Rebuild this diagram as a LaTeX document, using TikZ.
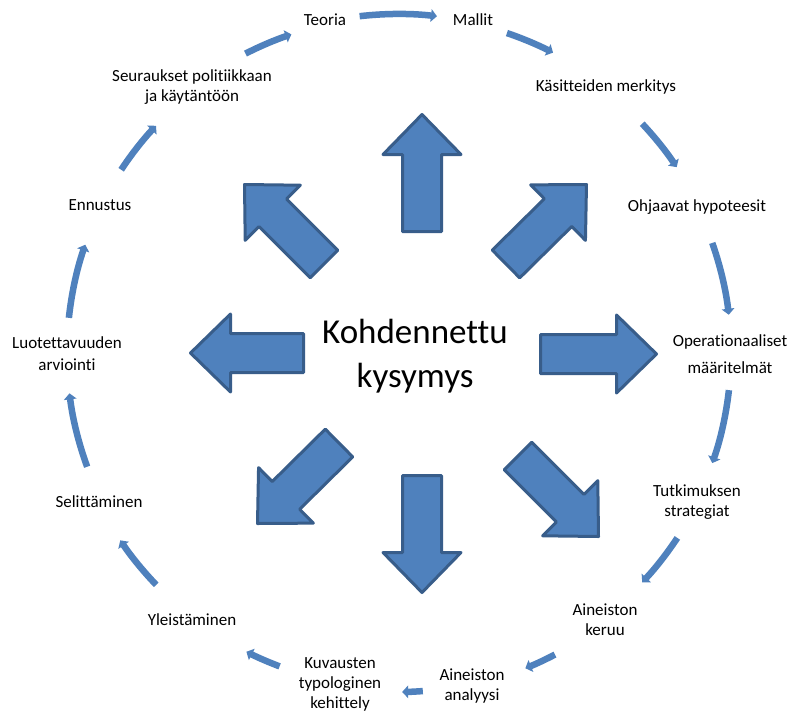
\documentclass[tikz,border=0pt]{standalone}
\usepackage{fontspec}
\setmainfont[Ligatures={NoCommon,NoRequired,NoContextual},RawFeature={-liga;-clig;-calt;-dlig}]{Carlito}
\usetikzlibrary{calc,arrows.meta}

\definecolor{blockfill}{HTML}{4F81BD}
\definecolor{blockline}{HTML}{385D8A}
\definecolor{cyclecol}{HTML}{4F81BD}

% Block arrow from tail coordinate #1 to tip coordinate #2
\newcommand\bigarr[2]{%
  \coordinate (#1h) at ($(#2)!40pt!(#1)$);
  \path[blockarrow]
    ($(#1)!19.5pt!90:(#2)$) -- ($(#1h)!19.5pt!90:(#2)$) --
    ($(#1h)!39pt!90:(#2)$) -- (#2) -- ($(#1h)!39pt!-90:(#2)$) --
    ($(#1h)!19.5pt!-90:(#2)$) -- ($(#1)!19.5pt!-90:(#2)$) -- cycle;
}

% Curved cycle arrow on the ring around (O): #1 start angle, #2 end angle, #3 radius
\newcommand\ringarr[3]{%
  \draw[ringarrow] ($(O)+(-#1:#3)$) arc[start angle=-#1, end angle=-#2, radius=#3];
}

\begin{document}
\begin{tikzpicture}[x=1pt,y=-1pt,
  blockarrow/.style={fill=blockfill, draw=blockline, line width=3pt, line join=round},
  ringarrow/.style={draw=cyclecol, line width=6.5pt, -{Triangle[width=12.5pt,length=6pt]}},
  lbl/.style={align=center, inner sep=0pt, font=\fontsize{17}{20}\selectfont}]
\useasboundingbox (0,0) rectangle (790,713);
\fill[white] (0,0) rectangle (790,713);

\coordinate (O) at (398,353);

% centre text
\node[align=center, inner sep=0pt, font=\fontsize{35}{44}\selectfont] (kysymys) at (415,356) {Kohdennettu\\kysymys};

% block arrows radiating from the centre
\coordinate (nT) at (422,231.5);  \coordinate (nH) at (422,114.5);
\coordinate (sT) at (422,475.5);  \coordinate (sH) at (422,592.5);
\coordinate (wT) at (303.5,353);  \coordinate (wH) at (190.5,353);
\coordinate (eT) at (540.5,354);  \coordinate (eH) at (656.5,354);
\coordinate (nwT) at (324,264);   \coordinate (nwH) at (244.5,184.5);
\coordinate (neT) at (506,264);   \coordinate (neH) at (586.5,184.5);
\coordinate (swT) at (339,443);   \coordinate (swH) at (257.5,523.5);
\coordinate (seT) at (518,456);   \coordinate (seH) at (598.5,536.5);
\bigarr{nT}{nH}
\bigarr{sT}{sH}
\bigarr{wT}{wH}
\bigarr{eT}{eH}
\bigarr{nwT}{nwH}
\bigarr{neT}{neH}
\bigarr{swT}{swH}
\bigarr{seT}{seH}

% cycle labels
\node[lbl] (teoria) at (325,20) {Teoria};
\node[lbl] (mallit) at (473,20) {Mallit};
\node[lbl] (kasit) at (606,87) {Käsitteiden merkitys};
\node[lbl] (ohj) at (697,207) {Ohjaavat hypoteesit};
\node[lbl, font=\fontsize{17}{27}\selectfont] (oper) at (730,354) {Operationaaliset\\määritelmät};
\node[lbl] (tutk) at (697,502) {Tutkimuksen\\strategiat};
\node[lbl] (keruu) at (605,620) {Aineiston\\keruu};
\node[lbl] (anal) at (472,686) {Aineiston\\analyysi};
\node[lbl] (kuv) at (340,684) {Kuvausten\\typologinen\\kehittely};
\node[lbl] (yleis) at (192,620) {Yleistäminen};
\node[lbl] (selit) at (99,502) {Selittäminen};
\node[lbl, font=\fontsize{17}{22}\selectfont] (luot) at (67,354) {Luotettavuuden\\arviointi};
\node[lbl] (ennus) at (100,205) {Ennustus};
\node[lbl] (seur) at (192,87) {Seuraukset politiikkaan\\ja käytäntöön};

% ring arrows between the labels
\ringarr{96.5}{83.4}{339}
\ringarr{71.2}{62.7}{338}
\ringarr{43.2}{33.7}{335}
\ringarr{19.3}{6.6}{333}
\ringarr{-6.4}{-19.3}{333}
\ringarr{-33.5}{-43.2}{335}
\ringarr{-62.5}{-68}{340}
\ringarr{-85.8}{-89.3}{339}
\ringarr{-110.7}{-116.9}{335}
\ringarr{-136.2}{-146}{335}
\ringarr{-159.9}{-173}{331}
\ringarr{-186.1}{-199.1}{331}
\ringarr{146.5}{136.8}{332}
\ringarr{117}{108.5}{336}
\end{tikzpicture}
\end{document}
